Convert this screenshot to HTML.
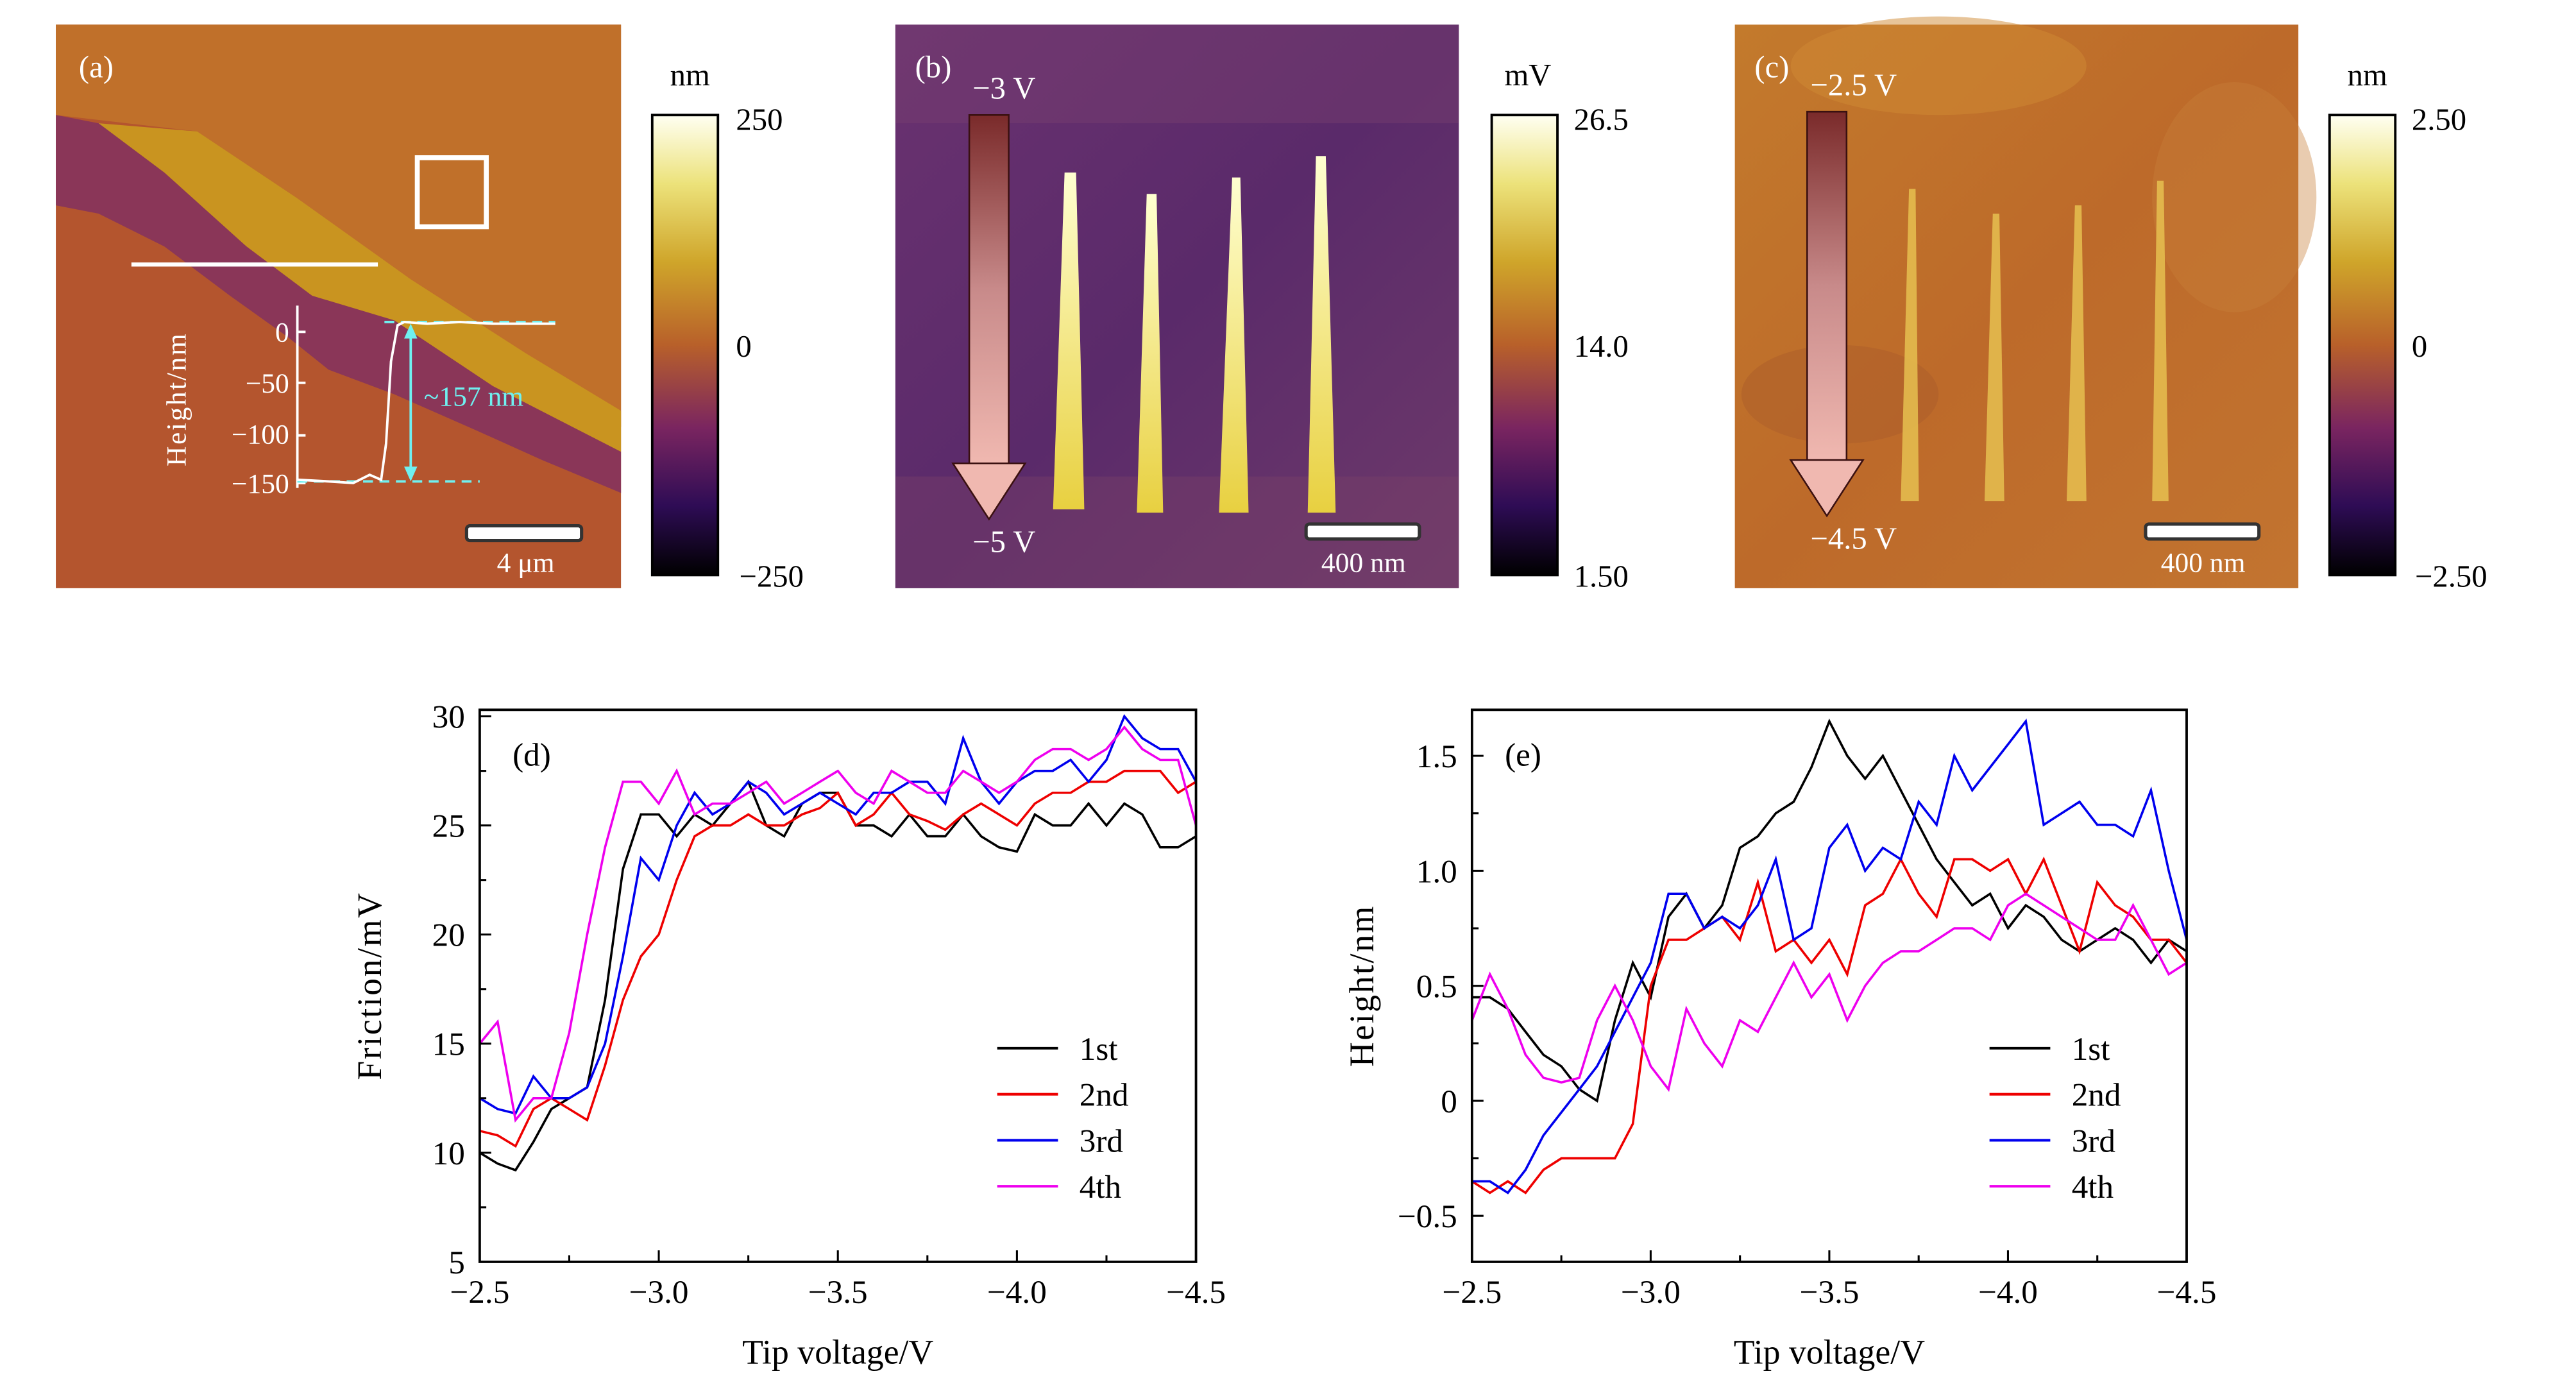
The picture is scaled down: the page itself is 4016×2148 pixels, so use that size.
<!DOCTYPE html>
<html><head><meta charset="utf-8"><style>
html,body{margin:0;padding:0;background:#fff;}
svg{display:block;font-family:"Liberation Serif",serif;}
</style></head><body>
<svg id="fig" width="4016" height="2148" viewBox="0 0 1568 838.7" preserveAspectRatio="none" xmlns="http://www.w3.org/2000/svg">
<defs>
<linearGradient id="cbar" x1="0" y1="0" x2="0" y2="1">
<stop offset="0" stop-color="#fffff2"/><stop offset="0.15" stop-color="#ece27a"/><stop offset="0.32" stop-color="#cfa52a"/><stop offset="0.5" stop-color="#b8602a"/><stop offset="0.68" stop-color="#7a2560"/><stop offset="0.85" stop-color="#2e0c55"/><stop offset="1" stop-color="#000"/>
</linearGradient>
<linearGradient id="arrowg" x1="0" y1="0" x2="0" y2="1">
<stop offset="0" stop-color="#7a2a2a"/><stop offset="0.5" stop-color="#c88a8a"/><stop offset="1" stop-color="#f0b8b0"/>
</linearGradient>
<linearGradient id="bgb" x1="0" y1="0" x2="1" y2="1">
<stop offset="0" stop-color="#6a3270"/><stop offset="0.5" stop-color="#5a2a6a"/><stop offset="1" stop-color="#6e3a6a"/>
</linearGradient>
<linearGradient id="bgc" x1="0" y1="0" x2="1" y2="1">
<stop offset="0" stop-color="#c37a2c"/><stop offset="0.5" stop-color="#bd6a2a"/><stop offset="1" stop-color="#c27430"/>
</linearGradient>
<linearGradient id="stripe" x1="0" y1="0" x2="0" y2="1">
<stop offset="0" stop-color="#ffffd0"/><stop offset="1" stop-color="#e8d040"/>
</linearGradient>
</defs>

<!-- Panel a -->
<g>
<rect x="34" y="15" width="344" height="343" fill="#b4552e"/>
<polygon points="34,15 378,15 378,260 320,220 250,175 180,120 120,80 34,70" fill="#c0702a"/>
<polygon points="60,75 120,80 180,120 250,170 320,215 378,250 378,275 300,235 240,195 190,180 150,150 100,105" fill="#c99420"/>
<polygon points="34,70 60,75 100,105 150,150 190,180 240,195 300,235 378,275 378,300 330,280 290,262 240,240 200,225 175,205 140,180 100,150 60,130 34,125" fill="#8a3658"/>
<line x1="80" y1="161" x2="230" y2="161" stroke="#fff" stroke-width="2.5"/>
<rect x="254" y="96" width="42" height="42" fill="none" stroke="#fff" stroke-width="3"/>
<text x="48" y="47" font-size="19" fill="#fff">(a)</text>
<g>
<line x1="181" y1="186" x2="181" y2="297" stroke="#fff" stroke-width="1.5"/>
<g stroke="#fff" stroke-width="1.5">
<line x1="181" y1="202" x2="186" y2="202"/><line x1="181" y1="233" x2="186" y2="233"/><line x1="181" y1="265" x2="186" y2="265"/><line x1="181" y1="294" x2="186" y2="294"/>
</g>
<g fill="#fff" font-size="17" text-anchor="end">
<text x="176" y="208">0</text><text x="176" y="239">−50</text><text x="176" y="270">−100</text><text x="176" y="300">−150</text>
</g>
<text transform="translate(113,243) rotate(-90)" fill="#fff" font-size="17" text-anchor="middle" letter-spacing="1">Height/nm</text>
<line x1="234" y1="196" x2="338" y2="196" stroke="#6ff0f0" stroke-width="1.5" stroke-dasharray="6,4"/>
<line x1="181" y1="293" x2="292" y2="293" stroke="#6ff0f0" stroke-width="1.5" stroke-dasharray="6,4"/>
<path d="M181,292 L200,293 L215,294 L225,289 L232,292 L235,270 L238,220 L242,198 L246,196 L260,197 L280,196 L300,197 L338,197" fill="none" stroke="#fff" stroke-width="1.5"/>
<line x1="250" y1="200" x2="250" y2="290" stroke="#6ff0f0" stroke-width="1.5"/>
<polygon points="246,206 254,206 250,197" fill="#6ff0f0"/>
<polygon points="246,284 254,284 250,293" fill="#6ff0f0"/>
<text x="258" y="247" fill="#6ff0f0" font-size="17">~157 nm</text>
</g>
<rect x="284" y="320" width="70" height="9" rx="2" fill="#fff" stroke="#333" stroke-width="2"/>
<text x="320" y="348" fill="#fff" font-size="17" text-anchor="middle">4 μm</text>
</g>
<g>
<rect x="397" y="70" width="40" height="280" fill="url(#cbar)" stroke="#000" stroke-width="1.5"/>
<text x="420" y="52" font-size="19" text-anchor="middle">nm</text>
<text x="448" y="79" font-size="19">250</text><text x="448" y="217" font-size="19">0</text><text x="450" y="357" font-size="19">−250</text>
</g>

<!-- Panel b -->
<g>
<rect x="545" y="15" width="343" height="343" fill="url(#bgb)"/>
<rect x="545" y="15" width="343" height="60" fill="#7a4070" opacity="0.4"/>
<rect x="545" y="290" width="343" height="68" fill="#7a4068" opacity="0.4"/>
<g fill="url(#stripe)">
<path d="M648,105 L655,105 L660,310 L641,310 Z"/>
<path d="M698,118 L704,118 L708,312 L692,312 Z"/>
<path d="M750,108 L755,108 L760,312 L742,312 Z"/>
<path d="M801,95 L807,95 L813,312 L796,312 Z"/>
</g>
<rect x="590" y="70" width="24" height="212" fill="url(#arrowg)" stroke="#3a1010" stroke-width="1"/>
<polygon points="580,282 624,282 602,316" fill="#f0b8b0" stroke="#3a1010" stroke-width="1"/>
<text x="557" y="47" font-size="19" fill="#fff">(b)</text>
<text x="592" y="60" font-size="19" fill="#fff">−3 V</text>
<text x="592" y="336" font-size="19" fill="#fff">−5 V</text>
<rect x="795" y="319" width="69" height="9" rx="2" fill="#fff" stroke="#333" stroke-width="2"/>
<text x="830" y="348" fill="#fff" font-size="17" text-anchor="middle">400 nm</text>
</g>
<g>
<rect x="908" y="70" width="40" height="280" fill="url(#cbar)" stroke="#000" stroke-width="1.5"/>
<text x="930" y="52" font-size="19" text-anchor="middle">mV</text>
<text x="958" y="79" font-size="19">26.5</text><text x="958" y="217" font-size="19">14.0</text><text x="958" y="357" font-size="19">1.50</text>
</g>

<!-- Panel c -->
<g>
<rect x="1056" y="15" width="343" height="343" fill="url(#bgc)"/>
<ellipse cx="1180" cy="40" rx="90" ry="30" fill="#d08a34" opacity="0.5"/>
<ellipse cx="1360" cy="120" rx="50" ry="70" fill="#c8803a" opacity="0.4"/>
<ellipse cx="1120" cy="240" rx="60" ry="30" fill="#a85a2a" opacity="0.4"/>
<g fill="#e6c050" opacity="0.85">
<path d="M1162,115 L1166,115 L1168,305 L1157,305 Z"/>
<path d="M1213,130 L1217,130 L1220,305 L1208,305 Z"/>
<path d="M1263,125 L1267,125 L1270,305 L1258,305 Z"/>
<path d="M1313,110 L1317,110 L1320,305 L1310,305 Z"/>
</g>
<rect x="1100" y="68" width="24" height="212" fill="url(#arrowg)" stroke="#3a1010" stroke-width="1"/>
<polygon points="1090,280 1134,280 1112,314" fill="#f0b8b0" stroke="#3a1010" stroke-width="1"/>
<text x="1068" y="47" font-size="19" fill="#fff">(c)</text>
<text x="1102" y="58" font-size="19" fill="#fff">−2.5 V</text>
<text x="1102" y="334" font-size="19" fill="#fff">−4.5 V</text>
<rect x="1306" y="319" width="69" height="9" rx="2" fill="#fff" stroke="#333" stroke-width="2"/>
<text x="1341" y="348" fill="#fff" font-size="17" text-anchor="middle">400 nm</text>
</g>
<g>
<rect x="1418" y="70" width="40" height="280" fill="url(#cbar)" stroke="#000" stroke-width="1.5"/>
<text x="1441" y="52" font-size="19" text-anchor="middle">nm</text>
<text x="1468" y="79" font-size="19">2.50</text><text x="1468" y="217" font-size="19">0</text><text x="1470" y="357" font-size="19">−2.50</text>
</g>

<g id="chartD"></g>
<g id="chartE"></g>
</svg>
<script>
const xVals = [-2.5,-2.55,-2.6,-2.65,-2.7,-2.75,-2.8,-2.85,-2.9,-2.95,-3.0,-3.05,-3.1,-3.15,-3.2,-3.25,-3.3,-3.35,-3.4,-3.45,-3.5,-3.55,-3.6,-3.65,-3.7,-3.75,-3.8,-3.85,-3.9,-3.95,-4.0,-4.05,-4.1,-4.15,-4.2,-4.25,-4.3,-4.35,-4.4,-4.45,-4.5];
const xTicks = [-2.5,-3.0,-3.5,-4.0,-4.5];
const xTickLabels = ["−2.5","−3.0","−3.5","−4.0","−4.5"];
const seriesNames = ["1st","2nd","3rd","4th"];
const seriesColors = ["#000000","#ee0000","#0000ee","#ee00ee"];
const fric1 = [10,9.5,9.2,10.5,12,12.5,13,17,23,25.5,25.5,24.5,25.5,25,26,27,25,24.5,26,26.5,26.5,25,25,24.5,25.5,24.5,24.5,25.5,24.5,24,23.8,25.5,25,25,26,25,26,25.5,24,24,24.5];
const fric2 = [11,10.8,10.3,12,12.5,12,11.5,14,17,19,20,22.5,24.5,25,25,25.5,25,25,25.5,25.8,26.5,25,25.5,26.5,25.5,25.2,24.8,25.5,26,25.5,25,26,26.5,26.5,27,27,27.5,27.5,27.5,26.5,27];
const fric3 = [12.5,12,11.8,13.5,12.5,12.5,13,15,19,23.5,22.5,25,26.5,25.5,26,27,26.5,25.5,26,26.5,26,25.5,26.5,26.5,27,27,26,29,27,26,27,27.5,27.5,28,27,28,30,29,28.5,28.5,27];
const fric4 = [15,16,11.5,12.5,12.5,15.5,20,24,27,27,26,27.5,25.5,26,26,26.5,27,26,26.5,27,27.5,26.5,26,27.5,27,26.5,26.5,27.5,27,26.5,27,28,28.5,28.5,28,28.5,29.5,28.5,28,28,25];
const fricTicks = [5,10,15,20,25,30];
const fricTickLabels = ["5","10","15","20","25","30"];
const hgt1 = [0.45,0.45,0.4,0.3,0.2,0.15,0.05,0.0,0.35,0.6,0.45,0.8,0.9,0.75,0.85,1.1,1.15,1.25,1.3,1.45,1.65,1.5,1.4,1.5,1.35,1.2,1.05,0.95,0.85,0.9,0.75,0.85,0.8,0.7,0.65,0.7,0.75,0.7,0.6,0.7,0.65];
const hgt2 = [-0.35,-0.4,-0.35,-0.4,-0.3,-0.25,-0.25,-0.25,-0.25,-0.1,0.5,0.7,0.7,0.75,0.8,0.7,0.95,0.65,0.7,0.6,0.7,0.55,0.85,0.9,1.05,0.9,0.8,1.05,1.05,1.0,1.05,0.9,1.05,0.85,0.65,0.95,0.85,0.8,0.7,0.7,0.6];
const hgt3 = [-0.35,-0.35,-0.4,-0.3,-0.15,-0.05,0.05,0.15,0.3,0.45,0.6,0.9,0.9,0.75,0.8,0.75,0.85,1.05,0.7,0.75,1.1,1.2,1.0,1.1,1.05,1.3,1.2,1.5,1.35,1.45,1.55,1.65,1.2,1.25,1.3,1.2,1.2,1.15,1.35,1.0,0.7];
const hgt4 = [0.35,0.55,0.4,0.2,0.1,0.08,0.1,0.35,0.5,0.35,0.15,0.05,0.4,0.25,0.15,0.35,0.3,0.45,0.6,0.45,0.55,0.35,0.5,0.6,0.65,0.65,0.7,0.75,0.75,0.7,0.85,0.9,0.85,0.8,0.75,0.7,0.7,0.85,0.7,0.55,0.6];
const hgtTicks = [-0.5,0,0.5,1.0,1.5];
const hgtTickLabels = ["−0.5","0","0.5","1.0","1.5"];

const NS = "http://www.w3.org/2000/svg";
function mk(parent, tag, attrs, text) {
  const el = document.createElementNS(NS, tag);
  for (const k in attrs) el.setAttribute(k, attrs[k]);
  if (text !== undefined) el.textContent = text;
  parent.appendChild(el);
  return el;
}
function drawChart(g, box, yMin, yMax, yTicks, yLabels, series, yTitle, tag, legX) {
  const xS = v => box.x0 + (v - (-2.5)) / (-4.5 - (-2.5)) * (box.x1 - box.x0);
  const yS = v => box.y1 - (v - yMin) / (yMax - yMin) * (box.y1 - box.y0);
  series.forEach((s, i) => {
    const d = s.map((v, j) => (j ? "L" : "M") + xS(xVals[j]).toFixed(1) + "," + yS(v).toFixed(1)).join(" ");
    const p = mk(g, "path", {d: d, fill: "none", stroke: seriesColors[i], "stroke-width": 1.4});
    
    
  });
  const frame = mk(g, "rect", {x: box.x0, y: box.y0, width: box.x1 - box.x0, height: box.y1 - box.y0, fill: "none", stroke: "#000", "stroke-width": 1.5});
  
  
  xTicks.forEach((t, i) => {
    const x = xS(t);
    mk(g, "line", {x1: x, y1: box.y1, x2: x, y2: box.y1 - 7, stroke: "#000", "stroke-width": 1.2});
    if (i < xTicks.length - 1) { const xm = xS(t - 0.25); mk(g, "line", {x1: xm, y1: box.y1, x2: xm, y2: box.y1 - 4, stroke: "#000", "stroke-width": 1.2}); }
    const lb = mk(g, "text", {x: x, y: box.y1 + 25, "font-size": 20, "text-anchor": "middle"}, xTickLabels[i]);
    
    
  });
  yTicks.forEach((t, i) => {
    const y = yS(t);
    mk(g, "line", {x1: box.x0, y1: y, x2: box.x0 + 7, y2: y, stroke: "#000", "stroke-width": 1.2});
    const half = (yTicks[1] - yTicks[0]) / 2;
    const ym = yS(t + half);
    if (ym > box.y0) mk(g, "line", {x1: box.x0, y1: ym, x2: box.x0 + 4, y2: ym, stroke: "#000", "stroke-width": 1.2});
    const lb = mk(g, "text", {x: box.x0 - 9, y: y + 7, "font-size": 20, "text-anchor": "end"}, yLabels[i]);
    
    
  });
  const xt = mk(g, "text", {x: (box.x0 + box.x1) / 2, y: box.y1 + 62, "font-size": 21, "text-anchor": "middle"}, "Tip voltage/V");
  
  
  const yt = mk(g, "text", {transform: "translate(" + (box.x0 - 60) + "," + ((box.y0 + box.y1) / 2) + ") rotate(-90)", "font-size": 21, "text-anchor": "middle", "letter-spacing": 1}, yTitle);
  
  
  const pl = mk(g, "text", {x: box.x0 + 20, y: box.y0 + 34, "font-size": 20}, tag);
  
  
  seriesNames.forEach((n, i) => {
    const y = 638 + i * 28;
    const le = mk(g, "g", {});
    
    
    mk(le, "line", {x1: legX, y1: y, x2: legX + 37, y2: y, stroke: seriesColors[i], "stroke-width": 1.6});
    mk(le, "text", {x: legX + 50, y: y + 7, "font-size": 20}, n);
  });
}
drawChart(document.getElementById("chartD"), {x0: 292, x1: 728, y0: 432, y1: 768}, 5, 30.3, fricTicks, fricTickLabels, [fric1, fric2, fric3, fric4], "Friction/mV", "(d)", 607);
drawChart(document.getElementById("chartE"), {x0: 896, x1: 1331, y0: 432, y1: 768}, -0.7, 1.7, hgtTicks, hgtTickLabels, [hgt1, hgt2, hgt3, hgt4], "Height/nm", "(e)", 1211);
</script>
</body></html>
